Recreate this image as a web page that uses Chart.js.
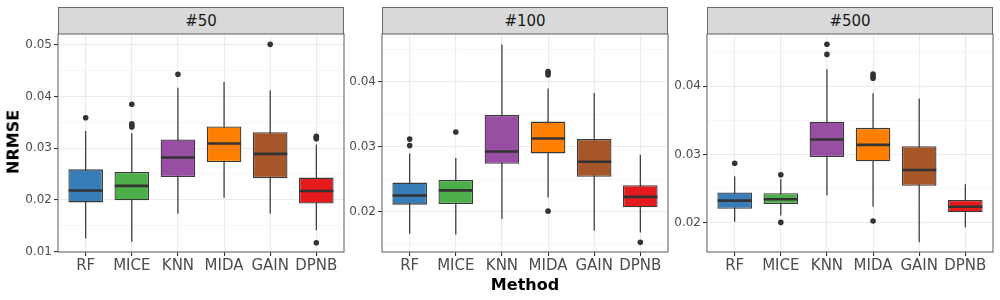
<!DOCTYPE html>
<html>
<head>
<meta charset="utf-8">
<script src="https://cdn.jsdelivr.net/npm/chart.js@4/dist/chart.umd.min.js"></script>
<style>
  html, body { margin: 0; padding: 0; background: #fff; }
  #wrap { position: relative; width: 1000px; height: 300px; overflow: hidden; font-family: "DejaVu Sans", sans-serif; }
  .panel { position: absolute; }
  .strip { position: absolute; box-sizing: border-box; background: #D9D9D9; border: 1px solid #6a6a6a; border-bottom: none;
           color: #1A1A1A; font-size: 15px; text-align: center; line-height: 26px; }
  .ttl { position: absolute; font-weight: bold; font-size: 16px; color: #000; white-space: nowrap; }
</style>
</head>
<body>
<div id="wrap">
  <div class="strip" style="left:58px; top:7px; width:286px; height:27px;">#50</div>
  <div class="strip" style="left:382px; top:7px; width:286px; height:27px;">#100</div>
  <div class="strip" style="left:707px; top:7px; width:286px; height:27px;">#500</div>
  <div class="panel" style="left:0px; top:24px; width:346px; height:276px;"><canvas id="c1"></canvas></div>
  <div class="panel" style="left:342px; top:24px; width:328px; height:276px;"><canvas id="c2"></canvas></div>
  <div class="panel" style="left:667px; top:24px; width:328px; height:276px;"><canvas id="c3"></canvas></div>
  <div class="ttl" style="left:13px; top:142px; transform: translate(-50%,-50%) rotate(-90deg);">NRMSE</div>
  <div class="ttl" style="left:525px; top:284px; transform: translate(-50%,-50%);">Method</div>
</div>
<script>
// ---- data ----
const methods = ["RF", "MICE", "KNN", "MIDA", "GAIN", "DPNB"];
const methodPos = [1, 2, 3, 4, 5, 6];
const colors = ["#377EB8", "#4DAF4A", "#984EA3", "#FF7F00", "#A65628", "#E41A1C"];

// panel #50
const p50Low   = [0.0125, 0.0119, 0.0173, 0.0204, 0.0173, 0.0141];
const p50Q1    = [0.0195, 0.0199, 0.0244, 0.0273, 0.0242, 0.0193];
const p50Med   = [0.0218, 0.0227, 0.0282, 0.0309, 0.0289, 0.0217];
const p50Q3    = [0.0259, 0.0254, 0.0317, 0.0342, 0.0331, 0.0243];
const p50High  = [0.0333, 0.0329, 0.0417, 0.0428, 0.0412, 0.0307];
const p50Out   = [[0.0359], [0.0385, 0.0347, 0.0344, 0.0341], [0.0443], [], [0.0501], [0.0323, 0.0321, 0.0318, 0.0117]];
const p50Ticks = [0.01, 0.015, 0.02, 0.025, 0.03, 0.035, 0.04, 0.045, 0.05];
const p50Range = [0.0099, 0.0521];

// panel #100
const p100Low   = [0.0166, 0.0165, 0.0189, 0.0222, 0.0171, 0.0168];
const p100Q1    = [0.0211, 0.0212, 0.0274, 0.0290, 0.0254, 0.0207];
const p100Med   = [0.0225, 0.0233, 0.0293, 0.0313, 0.0277, 0.0223];
const p100Q3    = [0.0245, 0.0249, 0.0349, 0.0339, 0.0312, 0.0241];
const p100High  = [0.0290, 0.0283, 0.0458, 0.0390, 0.0383, 0.0288];
const p100Out   = [[0.0312, 0.0302], [0.0323], [], [0.0416, 0.0414, 0.0411, 0.0201], [], [0.0153]];
const p100Ticks = [0.015, 0.02, 0.025, 0.03, 0.035, 0.04, 0.045];
const p100Range = [0.0138, 0.0474];

// panel #500
const p500Low   = [0.0201, 0.0210, 0.0240, 0.0223, 0.0171, 0.0193];
const p500Q1    = [0.0220, 0.0227, 0.0296, 0.0290, 0.0254, 0.0215];
const p500Med   = [0.0232, 0.0234, 0.0322, 0.0314, 0.0277, 0.0223];
const p500Q3    = [0.0244, 0.0243, 0.0348, 0.0339, 0.0312, 0.0233];
const p500High  = [0.0268, 0.0264, 0.0425, 0.0390, 0.0382, 0.0256];
const p500Out   = [[0.0287], [0.0270, 0.0200], [0.0462, 0.0447], [0.0418, 0.0414, 0.0412, 0.0202], [], []];
const p500Ticks = [0.02, 0.025, 0.03, 0.035, 0.04, 0.045];
const p500Range = [0.01565, 0.0477];

const majorTicks = [0.01, 0.02, 0.03, 0.04, 0.05];

// ---- helpers ----
function isMajor(v) { return majorTicks.some(m => Math.abs(m - v) < 1e-9); }

const frame = {
  id: 'frame',
  afterDraw(chart) {
    const a = chart.chartArea, ctx = chart.ctx;
    ctx.save();
    ctx.strokeStyle = '#6a6a6a';
    ctx.lineWidth = 1.1;
    ctx.strokeRect(a.left, a.top, a.right - a.left, a.bottom - a.top);
    ctx.restore();
  }
};

function makePanel(id, low, q1, med, q3, high, outs, ticks, range, yWidth) {
  const whisk = [];
  methodPos.forEach((x, i) => { whisk.push({x, y: low[i]}, {x, y: high[i]}, {x, y: null}); });
  const boxes = methodPos.map((x, i) => ({x, y: [q1[i], q3[i]]}));
  const meds = methodPos.map((x, i) => ({x, y: med[i]}));
  const outPts = [];
  outs.forEach((list, i) => list.forEach(v => outPts.push({x: methodPos[i], y: v})));

  new Chart(document.getElementById(id), {
    type: 'bar',
    data: {
      datasets: [
        { type: 'line', data: whisk, borderColor: '#333333', borderWidth: 1.2, pointRadius: 0, spanGaps: false, order: 4 },
        { type: 'bar', data: boxes, backgroundColor: colors, borderColor: '#3a3a3a', borderWidth: 1.3,
          borderSkipped: false, barPercentage: 0.75, categoryPercentage: 1.0, order: 3 },
        { type: 'scatter', data: meds, pointStyle: 'line', radius: 17, borderColor: '#333333', borderWidth: 2.6,
          backgroundColor: '#333333', order: 2 },
        { type: 'scatter', data: outPts, pointStyle: 'circle', radius: 2.8, borderWidth: 0,
          backgroundColor: '#333333', borderColor: '#333333', order: 1 }
      ]
    },
    options: {
      responsive: true, maintainAspectRatio: false, animation: false,
      layout: { autoPadding: false, padding: { top: 10, right: 2, left: 0, bottom: 0 } },
      plugins: { legend: { display: false }, tooltip: { enabled: false } },
      scales: {
        x: {
          type: 'linear', min: 0.4, max: 6.6, offset: false,
          afterBuildTicks: ax => { ax.ticks = methodPos.map(v => ({value: v})); },
          afterFit: ax => { ax.height = 48; },
          ticks: { autoSkip: false, maxRotation: 0, padding: 1, color: '#4D4D4D',
                   font: { family: 'DejaVu Sans', size: 15 },
                   callback: v => methods[Math.round(v) - 1] },
          grid: { offset: false, color: '#EBEBEB', lineWidth: 1.1, tickLength: 4, tickColor: '#333333', tickWidth: 1.1 },
          border: { display: false }
        },
        y: {
          type: 'linear', min: range[0], max: range[1],
          afterBuildTicks: ax => { ax.ticks = ticks.map(v => ({value: v})); },
          afterFit: ax => { ax.width = yWidth; },
          ticks: { autoSkip: false, padding: 2, color: '#4D4D4D',
                   font: { family: 'DejaVu Sans', size: 12 },
                   callback: v => isMajor(v) ? v.toFixed(2) : '' },
          grid: {
            offset: false,
            color: c => isMajor(c.tick.value) ? '#EBEBEB' : '#F4F4F4',
            lineWidth: c => isMajor(c.tick.value) ? 1.1 : 0.8,
            tickLength: 4,
            tickColor: c => isMajor(c.tick.value) ? '#333333' : 'rgba(0,0,0,0)',
            tickWidth: 1.1
          },
          border: { display: false }
        }
      }
    },
    plugins: [frame]
  });
}

makePanel('c1', p50Low, p50Q1, p50Med, p50Q3, p50High, p50Out, p50Ticks, p50Range, 58);
makePanel('c2', p100Low, p100Q1, p100Med, p100Q3, p100High, p100Out, p100Ticks, p100Range, 40);
makePanel('c3', p500Low, p500Q1, p500Med, p500Q3, p500High, p500Out, p500Ticks, p500Range, 40);
</script>
</body>
</html>
